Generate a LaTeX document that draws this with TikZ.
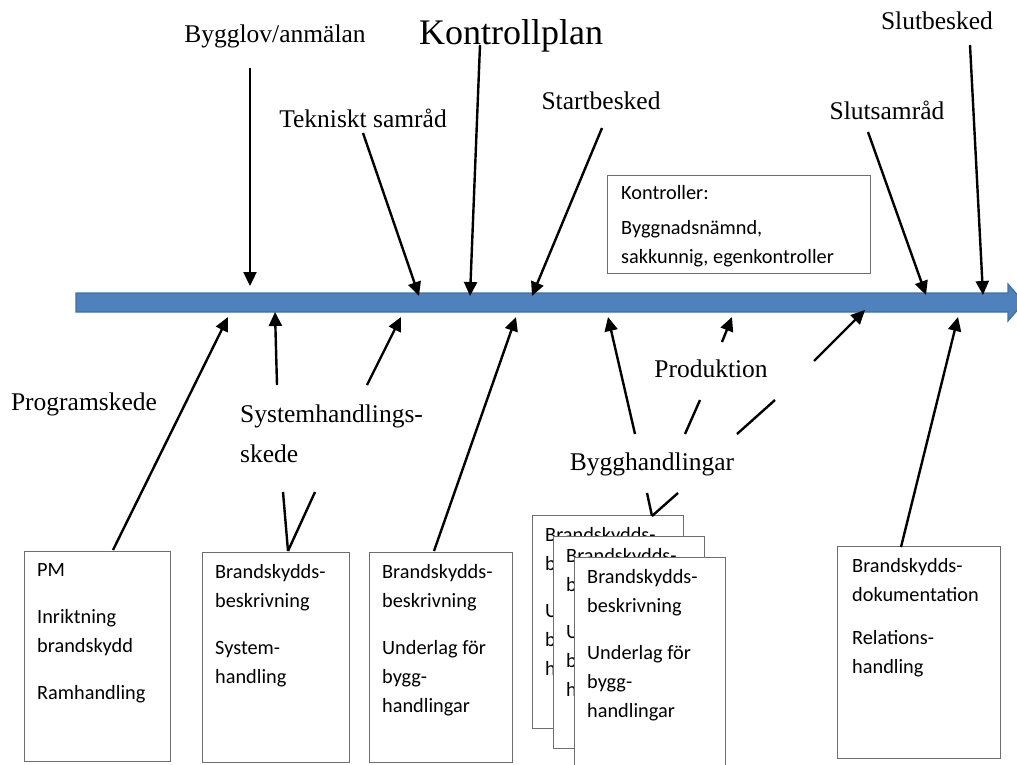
\documentclass[tikz,border=0pt]{standalone}
\usepackage{fontspec}
\setmainfont{Carlito}
\newfontfamily\handfont{Liberation Serif}
\usetikzlibrary{arrows.meta,calc}
\definecolor{barblue}{HTML}{4F81BD}
\definecolor{barline}{HTML}{41719C}
\definecolor{boxline}{HTML}{6E6E6E}
\begin{document}
\begin{tikzpicture}[x=1pt,y=-1pt,
  lbl/.style={font=\handfont\fontsize{25.5}{30}\selectfont, inner sep=0pt, anchor=base},
  doc/.style={draw=boxline, line width=1pt, fill=white, anchor=north west, inner sep=0pt},
  doctxt/.style={font=\fontsize{20.3}{29}\selectfont, inner sep=0pt, anchor=north west, align=left},
  arr/.style={line width=2.4pt, -{Triangle[length=14pt,width=13pt]}},
  ln/.style={line width=2.4pt},
]
\useasboundingbox (0,0) rectangle (1017,765);

% time line
\draw[fill=barblue, draw=barline, line width=1.2pt]
  (76,293) -- (1008,293) -- (1008,284) -- (1024,302.5) -- (1008,321) -- (1008,312) -- (76,312) -- cycle;

% labels above
\node[lbl] (bygglov) at (275,43) {Bygglov/anmälan};
\node[lbl, font=\handfont\fontsize{36}{40}\selectfont] (kplan) at (511,45) {Kontrollplan};
\node[lbl] (teknisk) at (363,128) {Tekniskt samråd};
\node[lbl] (start) at (601,110) {Startbesked};
\node[lbl] (slutsam) at (887,120) {Slutsamråd};
\node[lbl] (slutbes) at (937,30) {Slutbesked};

% labels below
\node[lbl] (prog) at (84,410) {Programskede};
\node[lbl, anchor=base west] (sys1) at (240,422) {Systemhandlings-};
\node[lbl, anchor=base west] (sys2) at (240,462) {skede};
\node[lbl] (prod) at (711,377) {Produktion};
\node[lbl] (bygg) at (652,470) {Bygghandlingar};

% control box
\node[doc, minimum width=263pt, minimum height=98pt] (kbox) at (607,175) {};
\node[doctxt] (ktxt) at ($(kbox.north west)+(14,10)$) {Kontroller:\\[6pt]Byggnadsnämnd,\\sakkunnig, egenkontroller};

% document boxes
\node[doc, minimum width=146pt, minimum height=210pt] (b1) at (24,551) {};
\node[doctxt] (b1t) at ($(b1.north west)+(13,12)$) {PM\\[18pt]Inriktning\\brandskydd\\[18pt]Ramhandling};

\node[doc, minimum width=147pt, minimum height=210pt] (b2) at (202,552) {};
\node[doctxt] (b2t) at ($(b2.north west)+(13,12)$) {Brandskydds-\\beskrivning\\[18pt]System-\\handling};

\node[doc, minimum width=143pt, minimum height=210pt] (b3) at (369,552) {};
\node[doctxt] (b3t) at ($(b3.north west)+(13,12)$) {Brandskydds-\\beskrivning\\[18pt]Underlag för\\bygg-\\handlingar};

\node[doc, minimum width=151pt, minimum height=213pt] (s1) at (532,515) {};
\node[doctxt] (s1t) at ($(s1.north west)+(13,12)$) {Brandskydds-\\beskrivning\\[18pt]Underlag för\\bygg-\\handlingar};
\node[doc, minimum width=151pt, minimum height=212pt] (s2) at (553,536) {};
\node[doctxt] (s2t) at ($(s2.north west)+(13,12)$) {Brandskydds-\\beskrivning\\[18pt]Underlag för\\bygg-\\handlingar};
\node[doc, minimum width=151pt, minimum height=220pt] (s3) at (574,557) {};
\node[doctxt] (s3t) at ($(s3.north west)+(13,12)$) {Brandskydds-\\beskrivning\\[18pt]Underlag för\\bygg-\\handlingar};

\node[doc, minimum width=163pt, minimum height=212pt] (b5) at (837,546) {};
\node[doctxt] (b5t) at ($(b5.north west)+(15,12)$) {Brandskydds-\\dokumentation\\[14pt]Relations-\\handling};

% arrow end points
\coordinate (t1) at (250,286);
\coordinate (t2) at (419,296);
\coordinate (t3) at (470,296);
\coordinate (t4) at (532,296);
\coordinate (t5) at (926,295);
\coordinate (t6) at (983,295);
\coordinate (a1) at (250,68);
\coordinate (a2) at (363,133);
\coordinate (a3) at (480,45);
\coordinate (a4) at (602,128);
\coordinate (a5) at (868,132);
\coordinate (a6) at (970,45);

\draw[arr] (a1) -- (t1);
\draw[arr] (a2) -- (t2);
\draw[arr] (a3) -- (t3);
\draw[arr] (a4) -- (t4);
\draw[arr] (a5) -- (t5);
\draw[arr] (a6) -- (t6);

% arrows from below
\coordinate (u1s) at (113,550);  \coordinate (u1e) at (228,317);
\coordinate (u2s) at (277,385);  \coordinate (u2e) at (275,312);
\coordinate (u3s) at (367,385);  \coordinate (u3e) at (401,317);
\coordinate (u4s) at (434,551);  \coordinate (u4e) at (516,317);
\coordinate (u5s) at (635,434);  \coordinate (u5e) at (608,317);
\coordinate (u6s) at (722,342);  \coordinate (u6e) at (732,317);
\coordinate (u7s) at (814,361);  \coordinate (u7e) at (865,310);
\coordinate (u8s) at (901,547);  \coordinate (u8e) at (958,317);
\draw[arr] (u1s) -- (u1e);
\draw[arr] (u2s) -- (u2e);
\draw[arr] (u3s) -- (u3e);
\draw[arr] (u4s) -- (u4e);
\draw[arr] (u5s) -- (u5e);
\draw[arr] (u6s) -- (u6e);
\draw[arr] (u7s) -- (u7e);
\draw[arr] (u8s) -- (u8e);

% plain lines
\coordinate (v1) at (283,492); \coordinate (v2) at (315,492); \coordinate (v0) at (288,551);
\draw[ln] (v1) -- (v0);
\draw[ln] (v2) -- (v0);
\coordinate (p1s) at (685,434); \coordinate (p1e) at (700,400);
\coordinate (p2s) at (737,434); \coordinate (p2e) at (775,400);
\draw[ln] (p1s) -- (p1e);
\draw[ln] (p2s) -- (p2e);
\coordinate (w1) at (647,493); \coordinate (w2) at (678,493); \coordinate (w0) at (652,516);
\draw[ln] (w1) -- (w0);
\draw[ln] (w2) -- (w0);
\end{tikzpicture}
\end{document}
